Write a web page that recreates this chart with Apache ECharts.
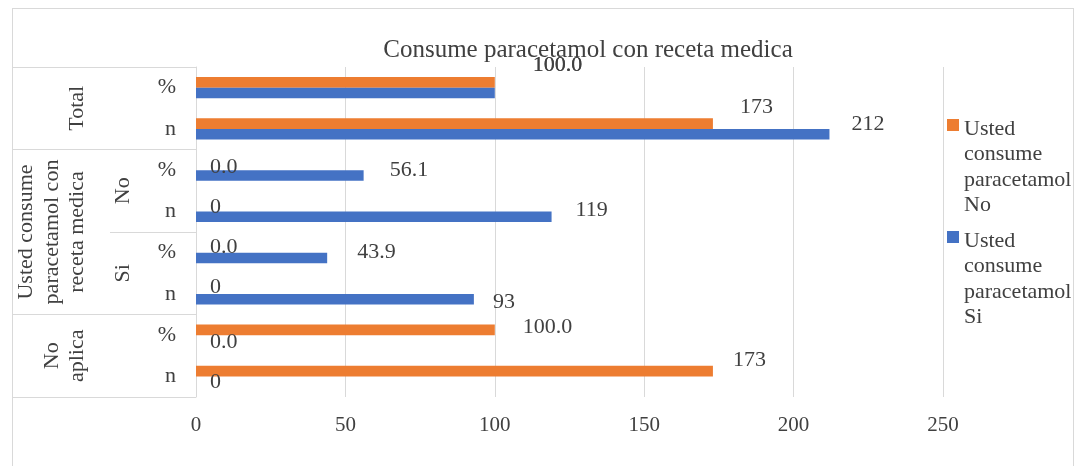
<!DOCTYPE html>
<html><head><meta charset="utf-8">
<script src="https://cdn.jsdelivr.net/npm/echarts@6/dist/echarts.min.js"></script>
<style>
html,body{margin:0;padding:0;background:#fff;overflow:hidden}
#chart{position:absolute;left:0;top:0;width:1074px;height:466px}
#frame{position:absolute;left:12px;top:8px;width:1060px;height:500px;border:1px solid #d9d9d9;pointer-events:none;z-index:2}
</style></head><body>
<div id="chart"></div>
<div id="frame"></div>
<script>
// ---- data (category axis order: bottom to top) ----
const groups = ['No aplica','No aplica','Si','Si','No','No','Total','Total'];
const stats = ['n','%','n','%','n','%','n','%'];
const seriesNames = ['Usted consume paracetamol No','Usted consume paracetamol Si'];
const valuesNo = [173, 100.0, 0, 0.0, 0, 0.0, 173, 100.0];
const valuesSi = [0, 0.0, 93, 43.9, 119, 56.1, 212, 100.0];
const xTicks = [0, 50, 100, 150, 200, 250];
const level1Labels = ['No\naplica', 'Usted consume\nparacetamol con\nreceta medica', 'Total'];
const level1Spans = [2, 4, 2];
const level2Labels = ['Si', 'No'];
const level2Spans = [2, 2];   // within the middle level-1 group
const titleText = 'Consume paracetamol con receta medica';

// ---- styling ----
const FONT = 'Liberation Serif';
const TXT = '#404040';
const LINE = '#d9d9d9';
const COLORS = ['#ED7D31', '#4472C4'];
// label nudges (px) relative to the bar end, bottom-to-top
const nudgeNo = [[20,-11],[28,-3],[14,-1],[14,0],[14,1],[14,2],[27,-16],[38,-17]];
const nudgeSi = [[14,1],[14,2],[19,3],[30,-6],[24,-6],[26,-5],[22,-10],[38,-28]];

const nCat = groups.length;
// level-1 label centres & borders
const l1Centers = {}; const l1Borders = new Set([0]);
let acc = 0;
level1Spans.forEach((s, i) => { l1Centers[acc + s / 2] = level1Labels[i]; acc += s; l1Borders.add(acc); });
// level-2 label centres & borders (all group boundaries)
const l2Centers = {}; const l2Borders = new Set([0]);
acc = level1Spans[0];
level2Spans.forEach((s, i) => { l2Centers[acc + s / 2] = level2Labels[i]; acc += s; });
for (let i = 1; i <= nCat; i++) { if (i === nCat || groups[i] !== groups[i - 1]) l2Borders.add(i); }
const tickIdx = Array.from({length: nCat + 1}, (_, i) => i);
const l1Colors = tickIdx.map(v => l1Borders.has(v) ? LINE : 'rgba(0,0,0,0)');
const l2Colors = tickIdx.map(v => l2Borders.has(v) ? LINE : 'rgba(0,0,0,0)');

const fmtVal = (v, i) => stats[i] === '%' ? Number(v).toFixed(1) : String(v);
function makeData(vals, nudges) {
  return vals.map((v, i) => ({ value: v, label: { offset: nudges[i] } }));
}
const labelBase = {
  show: true, position: 'right', distance: 0,
  fontFamily: FONT, fontSize: 22, color: TXT,
  formatter: p => fmtVal(p.value, p.dataIndex)
};

const chart = echarts.init(document.getElementById('chart'), null, {renderer: 'canvas'});
chart.setOption({
  backgroundColor: 'transparent',
  animation: false,
  title: {
    text: titleText, left: 583, top: 33, textAlign: 'center',
    textStyle: { fontFamily: FONT, fontSize: 25, fontWeight: 'normal', color: TXT }
  },
  legend: {
    orient: 'vertical', left: 942, top: 111,
    itemWidth: 12, itemHeight: 102, itemGap: 10,
    icon: 'path://M0,0L0.01,0M0,102L0.01,102M0,3H12V15H0Z',
    data: seriesNames,
    formatter: name => name.split(' ').join('\n'),
    textStyle: { fontFamily: FONT, fontSize: 22, lineHeight: 25.5, color: TXT }
  },
  grid: [
    { left: 196, top: 67, right: 131, bottom: 69, outerBoundsMode: 'none' },
    { left: 12, top: 67, width: 98, bottom: 69, outerBoundsMode: 'none' },
    { left: 110, top: 67, width: 86, bottom: 69, outerBoundsMode: 'none' }
  ],
  xAxis: [
    {
      type: 'value', gridIndex: 0, min: xTicks[0], max: xTicks[xTicks.length - 1],
      interval: xTicks[1] - xTicks[0],
      axisLine: { show: false }, axisTick: { show: false },
      splitLine: { show: true, lineStyle: { color: LINE, width: 1 } },
      axisLabel: { fontFamily: FONT, fontSize: 21, color: TXT, margin: 18 }
    },
    { type: 'value', gridIndex: 1, show: false, min: 0, max: 1 },
    { type: 'value', gridIndex: 2, show: false, min: 0, max: 1 }
  ],
  yAxis: [
    {
      type: 'category', gridIndex: 0,
      data: groups.map((g, i) => g + '|' + stats[i]),
      axisLine: { show: true, lineStyle: { color: LINE, width: 1 } },
      axisTick: { show: false },
      splitLine: { show: false },
      axisLabel: {
        interval: 0, margin: 20, fontFamily: FONT, fontSize: 22, color: TXT,
        formatter: v => v.split('|')[1]
      }
    },
    {
      type: 'value', gridIndex: 1, min: 0, max: nCat, interval: 1,
      axisLine: { show: false }, axisTick: { show: false },
      splitLine: { show: true, lineStyle: { color: l1Colors, width: 1 } },
      axisLabel: {
        inside: true, rotate: 90, margin: 78, align: 'center', verticalAlign: 'bottom',
        fontFamily: FONT, fontSize: 22, lineHeight: 25.5, color: TXT,
        showMinLabel: true, showMaxLabel: true,
        formatter: v => l1Centers[v] || ''
      }
    },
    {
      type: 'value', gridIndex: 2, min: 0, max: nCat, interval: 1,
      axisLine: { show: false }, axisTick: { show: false },
      splitLine: { show: true, lineStyle: { color: l2Colors, width: 1 } },
      axisLabel: {
        inside: true, rotate: 90, margin: 26, align: 'center', verticalAlign: 'bottom',
        fontFamily: FONT, fontSize: 22, lineHeight: 25.5, color: TXT,
        formatter: v => l2Centers[v] || ''
      }
    }
  ],
  series: [
    {
      name: seriesNames[0], type: 'bar', xAxisIndex: 0, yAxisIndex: 0,
      data: makeData(valuesNo, nudgeNo), itemStyle: { color: COLORS[0] },
      barGap: '0%', barCategoryGap: '49%', label: labelBase
    },
    {
      name: seriesNames[1], type: 'bar', xAxisIndex: 0, yAxisIndex: 0,
      data: makeData(valuesSi, nudgeSi), itemStyle: { color: COLORS[1] },
      barGap: '0%', barCategoryGap: '49%', label: labelBase
    }
  ]
});
</script>
</body></html>
